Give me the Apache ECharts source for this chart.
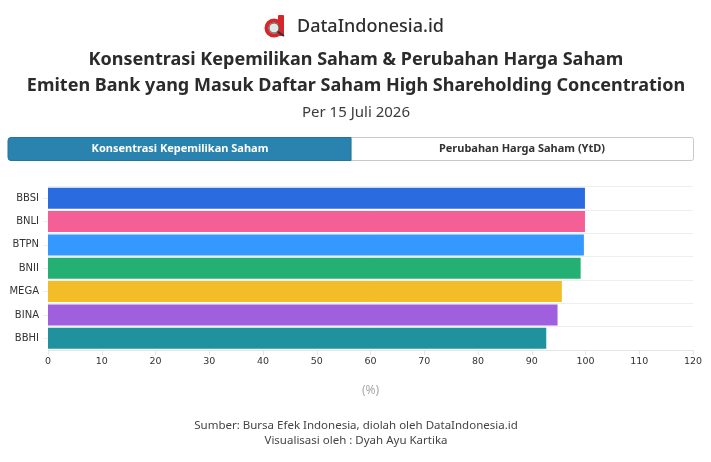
<!DOCTYPE html>
<html>
<head>
<meta charset="utf-8">
<style>html,body{margin:0;padding:0;background:#fff}#c{width:711px;height:462px}</style>
<script src="https://cdn.jsdelivr.net/npm/echarts@6/dist/echarts.min.js"></script>
</head>
<body>
<div id="c"></div>
<script>
const categories = ['BBSI','BNLI','BTPN','BNII','MEGA','BINA','BBHI'];
const values = [99.9, 99.9, 99.7, 99.1, 95.6, 94.8, 92.7];
const barColors = ['#2b6be0','#f45f96','#3399ff','#25b073','#f3bd28','#a05fdc','#1f929e'];
const titleLines = ['Konsentrasi Kepemilikan Saham & Perubahan Harga Saham','Emiten Bank yang Masuk Daftar Saham High Shareholding Concentration'];
const subtitle = 'Per 15 Juli 2026';
const tabs = ['Konsentrasi Kepemilikan Saham','Perubahan Harga Saham (YtD)'];
const footer = ['Sumber: Bursa Efek Indonesia, diolah oleh DataIndonesia.id','Visualisasi oleh : Dyah Ayu Kartika'];
const brand = 'DataIndonesia.id';
const uiFont = '"Noto Sans", "Open Sans", sans-serif';
const axisFont = '"DejaVu Sans", sans-serif';

const txt = (x, y, text, size, weight, fill, font, align) => ({
  type: 'text', x, y,
  style: { text, fontSize: size, fontWeight: weight, fill, fontFamily: font || uiFont, align: align || 'center', verticalAlign: 'middle' }
});

const chart = echarts.init(document.getElementById('c'), null, { renderer: 'canvas' });
chart.setOption({
  animation: false,
  backgroundColor: '#fff',
  grid: { left: 48, right: 18, top: 186.5, bottom: 112, containLabel: false },
  xAxis: {
    type: 'value', min: 0, max: 120, interval: 10,
    axisLine: { show: true, lineStyle: { color: '#e6e6e6' } },
    axisTick: { show: true, length: 5, lineStyle: { color: '#e6e6e6' } },
    axisLabel: { color: '#333', fontSize: 9.5, fontFamily: axisFont, margin: 7 },
    splitLine: { show: false },
    name: '(%)', nameLocation: 'middle', nameGap: 35,
    nameTextStyle: { color: '#a9a9a9', fontSize: 12, fontFamily: uiFont }
  },
  yAxis: {
    type: 'category', data: categories, inverse: true,
    axisLine: { show: false },
    axisTick: { show: true, alignWithLabel: true, length: 5, lineStyle: { color: '#eeeeee' } },
    axisLabel: { color: '#333', fontSize: 10, fontFamily: axisFont, margin: 9 },
    splitLine: { show: true, interval: 0, lineStyle: { color: '#eeeeee' } }
  },
  series: [{
    type: 'bar',
    barWidth: 21,
    data: values.map((v, i) => ({ value: v, itemStyle: { color: barColors[i] } }))
  }],
  graphic: [
    // brand mark
    { type: 'rect', shape: { x: 278, y: 15, width: 6, height: 21, r: 1 }, style: { fill: '#d7262b' } },
    { type: 'ring', shape: { cx: 274, cy: 28, r: 9.5, r0: 5.5 }, style: { fill: '#d7262b' } },
    { type: 'circle', shape: { cx: 274, cy: 28, r: 5 }, style: { fill: '#dfe8e4', stroke: '#555', lineWidth: 1 } },
    { type: 'line', shape: { x1: 277.5, y1: 31.5, x2: 284, y2: 36 }, style: { stroke: '#333', lineWidth: 2 } },
    txt(297, 27, brand, 18, 500, '#2e2e2e', uiFont, 'left'),
    txt(356, 60, titleLines[0], 18, 700, '#2b2b2b'),
    txt(356, 86, titleLines[1], 18, 700, '#2b2b2b'),
    txt(356, 113, subtitle, 15, 400, '#3a3a3a'),
    // toggle tabs
    { type: 'rect', shape: { x: 351, y: 137.5, width: 342.5, height: 23, r: [0, 2, 2, 0] }, style: { fill: '#fff', stroke: '#c9c9c9', lineWidth: 1 } },
    { type: 'rect', shape: { x: 8, y: 137.5, width: 343, height: 23, r: [3, 0, 0, 3] }, style: { fill: '#2a83ae', stroke: '#25749b', lineWidth: 1 } },
    txt(180, 148.5, tabs[0], 11, 700, '#ffffff'),
    txt(522, 148.5, tabs[1], 11, 700, '#333333'),
    txt(356, 426, footer[0], 11.5, 400, '#444'),
    txt(356, 441, footer[1], 11.5, 400, '#444')
  ]
});
</script>
</body>
</html>
